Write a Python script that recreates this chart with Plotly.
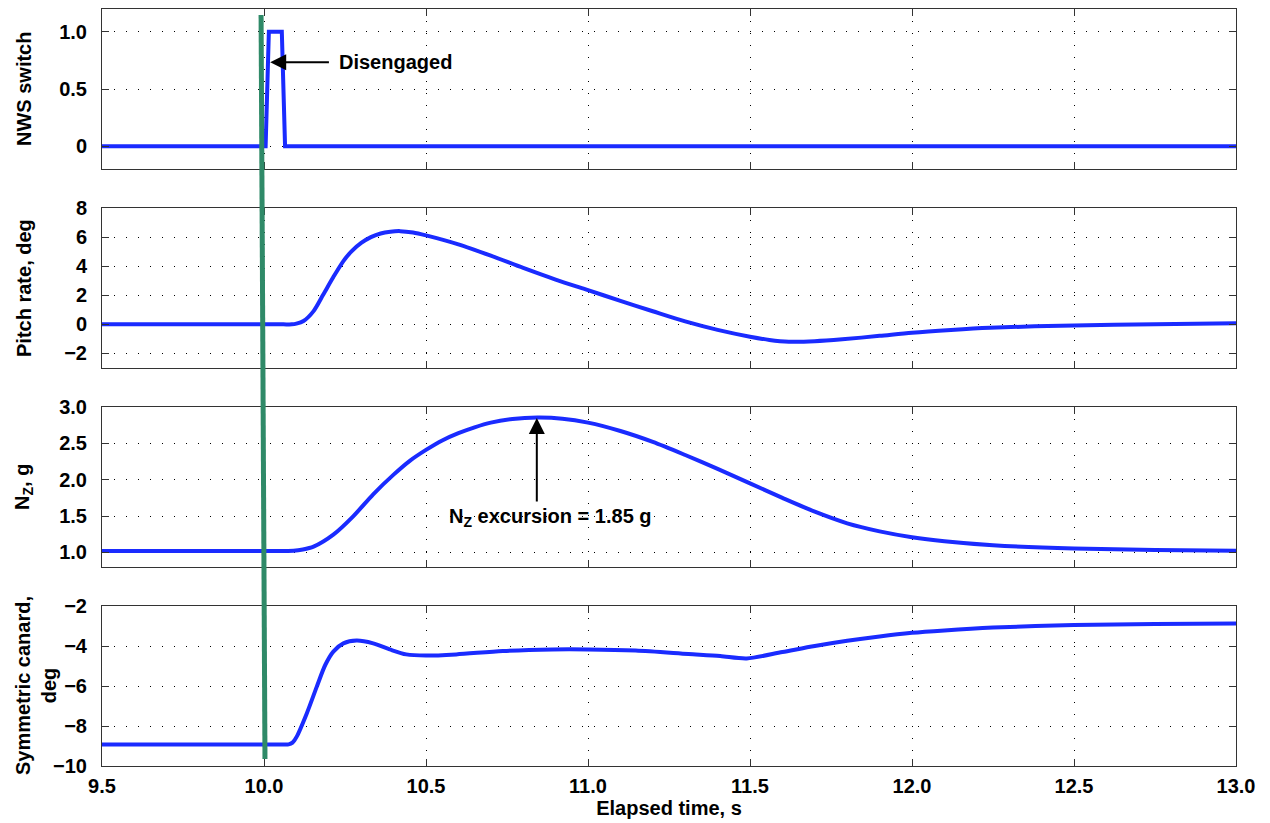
import plotly.graph_objects as go
from plotly.subplots import make_subplots

# ---------------- data ----------------
nws_t = [9.5, 10.005, 10.015, 10.055, 10.065, 13.0]
nws_v = [0, 0, 1, 1, 0, 0]

pitch_t = [9.5, 10.0, 10.06, 10.086, 10.1, 10.122, 10.153, 10.183, 10.214, 10.245,
           10.27, 10.3, 10.33, 10.36, 10.39, 10.42, 10.46, 10.5, 10.6, 10.7,
           10.8, 10.9, 11.0, 11.1, 11.2, 11.3, 11.4, 11.5, 11.56, 11.62,
           11.7, 11.785, 11.9, 12.0, 12.12, 12.24, 12.5, 12.75, 13.0]
pitch_v = [0, 0, 0, 0, 0.05, 0.23, 0.91, 2.05, 3.25, 4.35,
           5.02, 5.6, 6.0, 6.25, 6.37, 6.41, 6.32, 6.12, 5.5, 4.72,
           3.88, 3.08, 2.35, 1.62, 0.9, 0.2, -0.38, -0.85, -1.07, -1.19,
           -1.16, -1.03, -0.79, -0.57, -0.38, -0.23, -0.07, 0.0, 0.07]

nz_t = [9.5, 10.0, 10.05, 10.091, 10.12, 10.153, 10.214, 10.276, 10.337, 10.4,
        10.45, 10.5, 10.55, 10.6, 10.65, 10.7, 10.767, 10.844, 10.921, 11.0,
        11.1, 11.2, 11.3, 11.4, 11.5, 11.6, 11.7, 11.8, 11.9, 12.0,
        12.1, 12.25, 12.5, 12.75, 13.0]
nz_v = [1.02, 1.02, 1.02, 1.022, 1.04, 1.08, 1.245, 1.50, 1.80, 2.07,
        2.26, 2.41, 2.54, 2.64, 2.72, 2.785, 2.835, 2.855, 2.84, 2.785,
        2.67, 2.52, 2.34, 2.15, 1.95, 1.75, 1.56, 1.40, 1.29, 1.21,
        1.155, 1.10, 1.055, 1.035, 1.025]

canard_t = [9.5, 10.0, 10.05, 10.076, 10.088, 10.101, 10.132, 10.163, 10.189, 10.214,
            10.245, 10.286, 10.337, 10.388, 10.439, 10.5, 10.593, 10.737, 10.89, 11.0,
            11.147, 11.31, 11.408, 11.49, 11.6, 11.7, 11.8, 11.9, 12.0, 12.1,
            12.25, 12.5, 12.75, 13.0]
canard_v = [-8.92, -8.92, -8.92, -8.92, -8.83, -8.53, -7.37, -6.03, -4.95, -4.28,
            -3.87, -3.73, -3.87, -4.17, -4.42, -4.48, -4.42, -4.25, -4.17, -4.17,
            -4.23, -4.40, -4.5, -4.62, -4.3, -4.0, -3.74, -3.52, -3.34, -3.22,
            -3.08, -2.95, -2.9, -2.87]

# green event marker (x at top, x at bottom)
event_x = [9.991, 10.003]

x_ticks = [9.5, 10.0, 10.5, 11.0, 11.5, 12.0, 12.5, 13.0]
x_ticktext = ["9.5", "10.0", "10.5", "11.0", "11.5", "12.0", "12.5", "13.0"]
nws_ticks = [0, 0.5, 1.0]
nws_ticktext = ["0", "0.5", "1.0"]
pitch_ticks = [-2, 0, 2, 4, 6, 8]
nz_ticks = [1.0, 1.5, 2.0, 2.5, 3.0]
nz_ticktext = ["1.0", "1.5", "2.0", "2.5", "3.0"]
canard_ticks = [-10, -8, -6, -4, -2]

y_titles = ["NWS switch", "Pitch rate, deg", "N<sub>Z</sub>, g", "Symmetric canard,<br>deg"]

# ---------------- figure ----------------
W, H = 1270, 823
PAGE_OFF = 8            # default body margin of the html page
# plot area wanted in page pixels: left 102, right 1236, top 9, bottom 766
ML = 102 - PAGE_OFF
MT = 9 - PAGE_OFF
MR = W - (1236 - PAGE_OFF)
MB = H - (766 - PAGE_OFF)
plot_w = W - ML - MR
plot_h = H - MT - MB
panel_h = 160
gap = (plot_h - 4 * panel_h) / 3

fig = make_subplots(rows=4, cols=1, shared_xaxes=True, vertical_spacing=gap / plot_h)

BLUE = "#1a2bff"
GREEN = "#2f8a68"
FONT = dict(family="Liberation Sans, Arial, sans-serif", size=20, color="black", weight=700)

series = [(nws_t, nws_v, "linear"), (pitch_t, pitch_v, "spline"),
          (nz_t, nz_v, "spline"), (canard_t, canard_v, "spline")]
for i, (t, v, shape) in enumerate(series, start=1):
    fig.add_trace(go.Scatter(x=t, y=v, mode="lines",
                             line=dict(color=BLUE, width=4, shape=shape, smoothing=0.8),
                             showlegend=False, hoverinfo="skip"), row=i, col=1)

# domains
for i in range(4):
    top = 1 - i * (panel_h + gap) / plot_h
    bot = top - panel_h / plot_h
    name = "yaxis" if i == 0 else f"yaxis{i+1}"
    fig.layout[name].domain = [max(bot, 0), min(top, 1)]

grid_dash = "1px,11px"
axis_common = dict(showline=True, linecolor="#333333", linewidth=1, mirror="ticks",
                   ticks="inside", ticklen=7, tickcolor="#333333", tickwidth=1,
                   showgrid=True, gridcolor="black", gridwidth=1, griddash=grid_dash,
                   zeroline=False, tickfont=FONT, automargin=False)

for i in range(1, 5):
    fig.update_xaxes(range=[9.5, 13.0], tickvals=x_ticks, ticktext=x_ticktext,
                     showticklabels=(i == 4), ticklabelstandoff=2, row=i, col=1,
                     **axis_common)

fig.update_yaxes(range=[-0.2, 1.2], tickvals=nws_ticks, ticktext=nws_ticktext, row=1, col=1, **axis_common)
fig.update_yaxes(range=[-3, 8], tickvals=pitch_ticks, row=2, col=1, **axis_common)
fig.update_yaxes(range=[0.8, 3.0], tickvals=nz_ticks, ticktext=nz_ticktext, row=3, col=1, **axis_common)
fig.update_yaxes(range=[-10, -2], tickvals=canard_ticks, row=4, col=1, **axis_common)
fig.update_yaxes(ticklabelstandoff=10)

fig.update_xaxes(title=dict(text="Elapsed time, s", font=FONT, standoff=4), row=4, col=1)

# y titles as rotated annotations (page x of title centre)
title_x = [24, 24, 24, 36]
for i, txt in enumerate(y_titles):
    yref = "y domain" if i == 0 else f"y{i+1} domain"
    fig.add_annotation(text=txt, xref="paper", yref=yref,
                       x=(title_x[i] - PAGE_OFF - ML) / plot_w, y=0.5,
                       xanchor="center", yanchor="middle", textangle=-90,
                       showarrow=False, font=FONT)

# green event line spanning all panels (page y 15 .. 759)
bottom_px = H - MB
fig.add_shape(type="line", xref="x", yref="paper", x0=event_x[0], x1=event_x[1],
              y0=(bottom_px - (15 - PAGE_OFF)) / plot_h, y1=(bottom_px - (759 - PAGE_OFF)) / plot_h,
              line=dict(color=GREEN, width=5), layer="above")

# Disengaged arrow + text
fig.add_annotation(x=10.019, y=0.733, ax=10.205, ay=0.733, xref="x", yref="y",
                   axref="x", ayref="y", text="", showarrow=True,
                   arrowhead=2, arrowsize=1.6, arrowwidth=2, arrowcolor="black")
fig.add_annotation(x=10.226, y=0.733, xref="x", yref="y", text="Disengaged",
                   xanchor="left", yanchor="middle", showarrow=False, font=FONT)

# Nz excursion arrow + text
fig.add_annotation(x=10.842, y=2.85, ax=10.842, ay=1.68, xref="x3", yref="y3",
                   axref="x3", ayref="y3", text="", showarrow=True,
                   arrowhead=2, arrowsize=1.6, arrowwidth=2, arrowcolor="black")
fig.add_annotation(x=10.564, y=1.48, xref="x3", yref="y3",
                   text="N<sub>Z</sub> excursion = 1.85 g",
                   xanchor="left", yanchor="middle", showarrow=False, font=FONT)

fig.update_layout(width=W, height=H, margin=dict(l=ML, r=MR, t=MT, b=MB),
                  plot_bgcolor="white", paper_bgcolor="white", font=FONT)

fig.write_html("out.html")
